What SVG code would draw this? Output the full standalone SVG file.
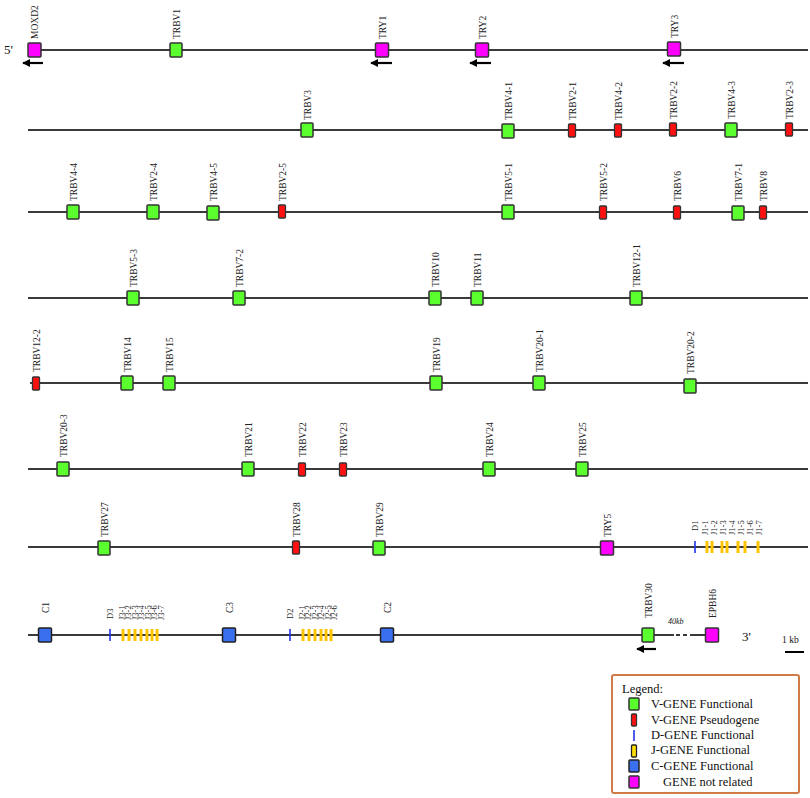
<svg xmlns="http://www.w3.org/2000/svg" width="810" height="798" viewBox="0 0 810 798">
<defs>
<style>
.ln{stroke:#3a3a3a;stroke-width:2;fill:none}
.g{fill:#5cff2e;stroke:#333;stroke-width:1.5}
.p{fill:#ff1010;stroke:#333;stroke-width:1.3}
.m{fill:#ff00ff;stroke:#333;stroke-width:1.5}
.c{fill:#3a6ff0;stroke:#222;stroke-width:1.5}
.d{stroke:#2233ee;stroke-width:1.6}
.j{stroke:#ffc400;stroke-width:3}
.lbl{font-family:"Liberation Serif","Times New Roman",serif;font-size:9.5px;fill:#222}
.sl{font-family:"Liberation Serif","Times New Roman",serif;font-size:8.5px;fill:#222}
.t{font-family:"Liberation Serif","Times New Roman",serif;fill:#111}
.lg{font-family:"Liberation Serif","Times New Roman",serif;font-size:12.5px;fill:#111}
.arr{stroke:#000;stroke-width:2.2;fill:none;marker-start:url(#ah)}
</style>
<marker id="ah" viewBox="0 0 10 10" refX="1" refY="5" markerWidth="3.6" markerHeight="3.6" orient="auto"><path d="M10,0 L0,5 L10,10 z" fill="#000"/></marker>
</defs>
<rect width="810" height="798" fill="#fff"/>
<g id="connectors">
<line class="ln" x1="28" y1="50" x2="808" y2="50"/>
<line class="ln" x1="28" y1="130" x2="808" y2="130"/>
<line class="ln" x1="28" y1="212" x2="808" y2="212"/>
<line class="ln" x1="28" y1="298" x2="808" y2="298"/>
<line class="ln" x1="30" y1="383" x2="808" y2="383"/>
<line class="ln" x1="28" y1="469" x2="808" y2="469"/>
<line class="ln" x1="28" y1="547" x2="808" y2="547"/>
<line class="ln" x1="28" y1="635" x2="674" y2="635"/>
<line class="ln" x1="676" y1="635" x2="680" y2="635"/>
<line class="ln" x1="683" y1="635" x2="687" y2="635"/>
<line class="ln" x1="690" y1="635" x2="706" y2="635"/>
<line class="arr" x1="23" y1="63" x2="43" y2="63"/>
<line class="arr" x1="371" y1="63" x2="392" y2="63"/>
<line class="arr" x1="470" y1="63" x2="491" y2="63"/>
<line class="arr" x1="663" y1="63" x2="684" y2="63"/>
<line class="arr" x1="637" y1="649" x2="656" y2="649"/>
</g>
<text class="t" x="4" y="54" font-size="13">5'</text>
<text class="t" x="742" y="641" font-size="13">3'</text>
<text class="t" x="668" y="624" font-size="8" font-style="italic">40kb</text>
<text class="t" x="782" y="643" font-size="9.5">1 kb</text>
<line x1="785" y1="652" x2="804" y2="652" stroke="#000" stroke-width="2"/>

<!-- Row 1 -->
<g id="MOXD2"><rect class="m" x="28" y="43" width="13" height="14" rx="1"/><text class="lbl" transform="translate(37.5,39) rotate(-90)">MOXD2</text></g>
<g id="TRBV1"><rect class="g" x="170" y="43" width="12" height="14" rx="1"/><text class="lbl" transform="translate(179.5,39) rotate(-90)">TRBV1</text></g>
<g id="TRY1"><rect class="m" x="375.5" y="43" width="13" height="14" rx="1"/><text class="lbl" transform="translate(385.5,39) rotate(-90)">TRY1</text></g>
<g id="TRY2"><rect class="m" x="475.5" y="43" width="13" height="14" rx="1"/><text class="lbl" transform="translate(485.5,39) rotate(-90)">TRY2</text></g>
<g id="TRY3"><rect class="m" x="667.5" y="42" width="13" height="14" rx="1"/><text class="lbl" transform="translate(677.5,38) rotate(-90)">TRY3</text></g>

<!-- Row 2 -->
<g id="TRBV3"><rect class="g" x="301" y="123" width="12" height="14" rx="1"/><text class="lbl" transform="translate(310.5,120) rotate(-90)">TRBV3</text></g>
<g id="TRBV4-1"><rect class="g" x="502" y="124" width="12" height="14" rx="1"/><text class="lbl" transform="translate(511.5,120) rotate(-90)">TRBV4-1</text></g>
<g id="TRBV2-1"><rect class="p" x="568.5" y="124" width="7" height="13" rx="1"/><text class="lbl" transform="translate(575.5,120) rotate(-90)">TRBV2-1</text></g>
<g id="TRBV4-2"><rect class="p" x="614.5" y="124" width="7" height="13" rx="1"/><text class="lbl" transform="translate(621.5,120) rotate(-90)">TRBV4-2</text></g>
<g id="TRBV2-2"><rect class="p" x="669.5" y="123" width="7" height="13" rx="1"/><text class="lbl" transform="translate(676.5,119) rotate(-90)">TRBV2-2</text></g>
<g id="TRBV4-3"><rect class="g" x="725" y="123" width="12" height="14" rx="1"/><text class="lbl" transform="translate(734.5,119) rotate(-90)">TRBV4-3</text></g>
<g id="TRBV2-3"><rect class="p" x="785.5" y="123" width="7" height="13" rx="1"/><text class="lbl" transform="translate(792.5,119) rotate(-90)">TRBV2-3</text></g>

<!-- Row 3 -->
<g id="TRBV4-4"><rect class="g" x="67" y="205" width="12" height="14" rx="1"/><text class="lbl" transform="translate(76.5,201) rotate(-90)">TRBV4-4</text></g>
<g id="TRBV2-4"><rect class="g" x="147" y="205" width="12" height="14" rx="1"/><text class="lbl" transform="translate(156.5,201) rotate(-90)">TRBV2-4</text></g>
<g id="TRBV4-5"><rect class="g" x="207" y="206" width="12" height="14" rx="1"/><text class="lbl" transform="translate(216.5,201) rotate(-90)">TRBV4-5</text></g>
<g id="TRBV2-5"><rect class="p" x="278.5" y="205" width="7" height="13" rx="1"/><text class="lbl" transform="translate(285.5,201) rotate(-90)">TRBV2-5</text></g>
<g id="TRBV5-1"><rect class="g" x="502" y="205" width="12" height="14" rx="1"/><text class="lbl" transform="translate(511.5,201) rotate(-90)">TRBV5-1</text></g>
<g id="TRBV5-2"><rect class="p" x="599.5" y="206" width="7" height="13" rx="1"/><text class="lbl" transform="translate(606.5,201) rotate(-90)">TRBV5-2</text></g>
<g id="TRBV6"><rect class="p" x="673.5" y="206" width="7" height="13" rx="1"/><text class="lbl" transform="translate(680.5,201) rotate(-90)">TRBV6</text></g>
<g id="TRBV7-1"><rect class="g" x="732" y="206" width="12" height="14" rx="1"/><text class="lbl" transform="translate(741.5,201) rotate(-90)">TRBV7-1</text></g>
<g id="TRBV8"><rect class="p" x="759.5" y="206" width="7" height="13" rx="1"/><text class="lbl" transform="translate(766.5,201) rotate(-90)">TRBV8</text></g>

<!-- Row 4 -->
<g id="TRBV5-3"><rect class="g" x="127" y="291" width="12" height="14" rx="1"/><text class="lbl" transform="translate(136.5,287) rotate(-90)">TRBV5-3</text></g>
<g id="TRBV7-2"><rect class="g" x="233" y="291" width="12" height="14" rx="1"/><text class="lbl" transform="translate(242.5,287) rotate(-90)">TRBV7-2</text></g>
<g id="TRBV10"><rect class="g" x="429" y="291" width="12" height="14" rx="1"/><text class="lbl" transform="translate(438.5,287) rotate(-90)">TRBV10</text></g>
<g id="TRBV11"><rect class="g" x="471" y="291" width="12" height="14" rx="1"/><text class="lbl" transform="translate(480.5,287) rotate(-90)">TRBV11</text></g>
<g id="TRBV12-1"><rect class="g" x="630" y="291" width="12" height="14" rx="1"/><text class="lbl" transform="translate(639.5,287) rotate(-90)">TRBV12-1</text></g>

<!-- Row 5 -->
<g id="TRBV12-2"><rect class="p" x="32.5" y="377" width="7" height="13" rx="1"/><text class="lbl" transform="translate(39.5,372) rotate(-90)">TRBV12-2</text></g>
<g id="TRBV14"><rect class="g" x="121" y="376" width="12" height="14" rx="1"/><text class="lbl" transform="translate(130.5,372) rotate(-90)">TRBV14</text></g>
<g id="TRBV15"><rect class="g" x="163" y="376" width="12" height="14" rx="1"/><text class="lbl" transform="translate(172.5,372) rotate(-90)">TRBV15</text></g>
<g id="TRBV19"><rect class="g" x="430" y="376" width="12" height="14" rx="1"/><text class="lbl" transform="translate(439.5,372) rotate(-90)">TRBV19</text></g>
<g id="TRBV20-1"><rect class="g" x="533" y="376" width="12" height="14" rx="1"/><text class="lbl" transform="translate(542.5,372) rotate(-90)">TRBV20-1</text></g>
<g id="TRBV20-2"><rect class="g" x="684" y="379" width="12" height="14" rx="1"/><text class="lbl" transform="translate(693.5,374) rotate(-90)">TRBV20-2</text></g>

<!-- Row 6 -->
<g id="TRBV20-3"><rect class="g" x="57" y="462" width="12" height="14" rx="1"/><text class="lbl" transform="translate(66.5,457) rotate(-90)">TRBV20-3</text></g>
<g id="TRBV21"><rect class="g" x="242" y="462" width="12" height="14" rx="1"/><text class="lbl" transform="translate(251.5,457) rotate(-90)">TRBV21</text></g>
<g id="TRBV22"><rect class="p" x="298.5" y="463" width="7" height="13" rx="1"/><text class="lbl" transform="translate(305.5,457) rotate(-90)">TRBV22</text></g>
<g id="TRBV23"><rect class="p" x="339.5" y="463" width="7" height="13" rx="1"/><text class="lbl" transform="translate(346.5,457) rotate(-90)">TRBV23</text></g>
<g id="TRBV24"><rect class="g" x="483" y="462" width="12" height="14" rx="1"/><text class="lbl" transform="translate(492.5,457) rotate(-90)">TRBV24</text></g>
<g id="TRBV25"><rect class="g" x="576" y="462" width="12" height="14" rx="1"/><text class="lbl" transform="translate(585.5,457) rotate(-90)">TRBV25</text></g>

<!-- Row 7 -->
<g id="TRBV27"><rect class="g" x="98" y="541" width="12" height="14" rx="1"/><text class="lbl" transform="translate(107.5,537) rotate(-90)">TRBV27</text></g>
<g id="TRBV28"><rect class="p" x="292.5" y="541" width="7" height="13" rx="1"/><text class="lbl" transform="translate(299.5,537) rotate(-90)">TRBV28</text></g>
<g id="TRBV29"><rect class="g" x="373" y="541" width="12" height="14" rx="1"/><text class="lbl" transform="translate(382.5,537) rotate(-90)">TRBV29</text></g>
<g id="TRY5"><rect class="m" x="600.5" y="541" width="13" height="14" rx="1"/><text class="lbl" transform="translate(610.5,537) rotate(-90)">TRY5</text></g>
<g id="D1"><line class="d" x1="695" y1="541" x2="695" y2="553"/><text class="sl" transform="translate(698,531) rotate(-90)">D1</text></g>
<g id="J1"><line class="j" x1="707" y1="541" x2="707" y2="553"/><line class="j" x1="712" y1="541" x2="712" y2="553"/><line class="j" x1="722" y1="541" x2="722" y2="553"/><line class="j" x1="727" y1="541" x2="727" y2="553"/><line class="j" x1="738" y1="541" x2="738" y2="553"/><line class="j" x1="745" y1="541" x2="745" y2="553"/><line class="j" x1="758" y1="541" x2="758" y2="553"/>
<text class="sl" transform="translate(708,535) rotate(-90)">J1-1</text><text class="sl" transform="translate(717,535) rotate(-90)">J1-2</text><text class="sl" transform="translate(726,535) rotate(-90)">J1-3</text><text class="sl" transform="translate(735,535) rotate(-90)">J1-4</text><text class="sl" transform="translate(744,535) rotate(-90)">J1-5</text><text class="sl" transform="translate(753,535) rotate(-90)">J1-6</text><text class="sl" transform="translate(762,535) rotate(-90)">J1-7</text></g>

<!-- Row 8 -->
<g id="C1"><rect class="c" x="38.5" y="628" width="13" height="14" rx="1"/><text class="lbl" transform="translate(48.5,613) rotate(-90)">C1</text></g>
<g id="D3"><line class="d" x1="110" y1="629" x2="110" y2="641"/><text class="sl" transform="translate(113,619) rotate(-90)">D3</text></g>
<g id="J3"><line class="j" x1="123" y1="629" x2="123" y2="641"/><line class="j" x1="129" y1="629" x2="129" y2="641"/><line class="j" x1="135" y1="629" x2="135" y2="641"/><line class="j" x1="141" y1="629" x2="141" y2="641"/><line class="j" x1="147" y1="629" x2="147" y2="641"/><line class="j" x1="152" y1="629" x2="152" y2="641"/><line class="j" x1="157" y1="629" x2="157" y2="641"/>
<text class="sl" transform="translate(124.5,620) rotate(-90)">J3-1</text><text class="sl" transform="translate(131,620) rotate(-90)">J3-2</text><text class="sl" transform="translate(137.5,620) rotate(-90)">J3-3</text><text class="sl" transform="translate(144,620) rotate(-90)">J3-4</text><text class="sl" transform="translate(150.5,620) rotate(-90)">J3-5</text><text class="sl" transform="translate(157,620) rotate(-90)">J3-6</text><text class="sl" transform="translate(163.5,620) rotate(-90)">J3-7</text></g>
<g id="C3"><rect class="c" x="222.5" y="628" width="13" height="14" rx="1"/><text class="lbl" transform="translate(232.5,613) rotate(-90)">C3</text></g>
<g id="D2"><line class="d" x1="290" y1="629" x2="290" y2="641"/><text class="sl" transform="translate(293,619) rotate(-90)">D2</text></g>
<g id="J2"><line class="j" x1="303" y1="629" x2="303" y2="641"/><line class="j" x1="309" y1="629" x2="309" y2="641"/><line class="j" x1="315" y1="629" x2="315" y2="641"/><line class="j" x1="321" y1="629" x2="321" y2="641"/><line class="j" x1="326" y1="629" x2="326" y2="641"/><line class="j" x1="331" y1="629" x2="331" y2="641"/>
<text class="sl" transform="translate(304.5,620) rotate(-90)">J2-1</text><text class="sl" transform="translate(311,620) rotate(-90)">J2-2</text><text class="sl" transform="translate(317.5,620) rotate(-90)">J2-3</text><text class="sl" transform="translate(324,620) rotate(-90)">J2-4</text><text class="sl" transform="translate(330.5,620) rotate(-90)">J2-5</text><text class="sl" transform="translate(337,620) rotate(-90)">J2-6</text></g>
<g id="C2"><rect class="c" x="380.5" y="628" width="13" height="14" rx="1"/><text class="lbl" transform="translate(390.5,613) rotate(-90)">C2</text></g>
<g id="TRBV30"><rect class="g" x="642" y="628" width="12" height="14" rx="1"/><text class="lbl" transform="translate(651.5,618) rotate(-90)">TRBV30</text></g>
<g id="EPBH6"><rect class="m" x="705.5" y="628" width="13" height="14" rx="1"/><text class="lbl" transform="translate(715.5,618) rotate(-90)">EPBH6</text></g>

<!-- Legend -->
<g id="legend">
<rect x="612" y="675" width="187" height="118" fill="#fff" stroke="#d07a45" stroke-width="2" rx="2"/>
<text class="lg" x="622" y="693">Legend:</text>
<rect class="g" x="629" y="698" width="10" height="12" rx="1"/>
<text class="lg" x="651" y="708">V-GENE Functional</text>
<rect class="p" x="631.5" y="714" width="5" height="12" rx="1"/>
<text class="lg" x="651" y="724">V-GENE Pseudogene</text>
<line class="d" x1="634" y1="730" x2="634" y2="741"/>
<text class="lg" x="651" y="739">D-GENE Functional</text>
<rect x="631.5" y="745" width="5" height="12" rx="1" fill="#ffe000" stroke="#222" stroke-width="1.3"/>
<text class="lg" x="651" y="754">J-GENE Functional</text>
<rect class="c" x="629" y="760" width="10" height="12" rx="1"/>
<text class="lg" x="651" y="770">C-GENE Functional</text>
<rect class="m" x="629" y="776" width="10" height="12" rx="1"/>
<text class="lg" x="663" y="786">GENE not related</text>
</g>
</svg>
